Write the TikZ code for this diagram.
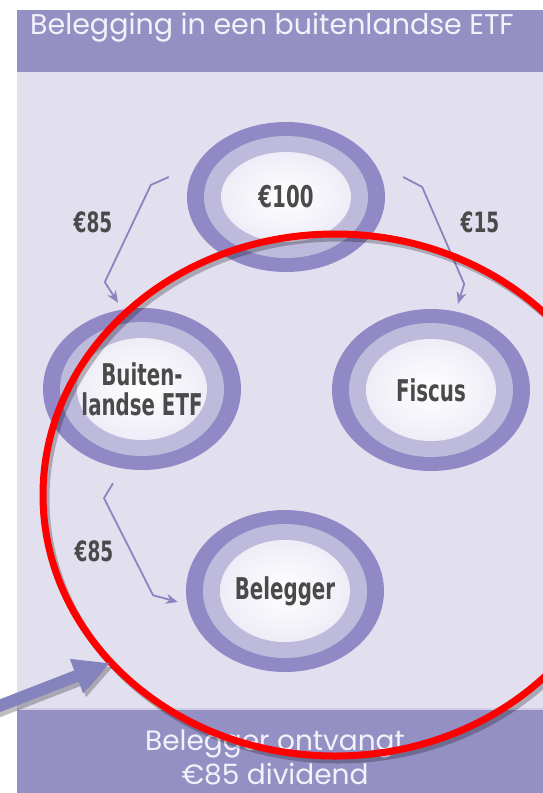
\documentclass[tikz,border=0pt]{standalone}
\usepackage{fontspec}
\setmainfont{Poppins}
\newfontfamily\ringfont{DejaVu Sans}[FakeStretch=0.66]
\usetikzlibrary{arrows.meta,shapes.geometric}

\definecolor{bannercol}{HTML}{9590C4}
\definecolor{paneltint}{HTML}{E2E0EF}
\definecolor{ringdark}{HTML}{9189C5}
\definecolor{ringlight}{HTML}{BEBADB}
\definecolor{ringpale}{HTML}{EEEDF7}
\definecolor{flowcol}{HTML}{8A85BF}
\definecolor{labelgray}{HTML}{4A4A4A}
\definecolor{pointercol}{HTML}{8583BE}
\definecolor{bannerwhite}{HTML}{F3F1FA}

\begin{document}
\begin{tikzpicture}[x=1pt, y=-1pt,
    % Styles
    ring/.style={ellipse, inner sep=0pt, minimum width=198pt, minimum height=#1, fill=ringdark,
      text=labelgray, align=center, font=\ringfont\bfseries\fontsize{30}{30}\selectfont,
      path picture={
        \fill[ringlight] (path picture bounding box.center) ellipse [x radius=82pt, y radius=#1/2-14pt];
        \shade[inner color=white, outer color=ringpale] (path picture bounding box.center) ellipse [x radius=65pt, y radius=#1/2-30pt];
      }},
    ring/.default=162pt,
    flow/.style={-{Stealth[length=12pt, width=10pt]}, line width=1.8pt, flowcol, line join=round},
    amount/.style={font=\ringfont\bfseries\fontsize{28}{30}\selectfont, text=labelgray},
    bannertext/.style={text=bannerwhite, align=center, anchor=base},
    pointer/.style={-{Triangle[length=36pt, width=34pt]}, line width=12pt, pointercol},
    circled/.style={draw=red, line width=7pt},
    castshadow/.style={black, opacity=0.25},
]

\useasboundingbox (0,0) rectangle (543,793);
\fill[white] (0,0) rectangle (543,793);

% Panel and banners
\fill[paneltint] (17,72) rectangle (543,710);
\fill[bannercol] (17,10) rectangle (543,72);
\fill[bannercol] (17,710) rectangle (543,793);
\draw[white!55!bannercol, line width=1.5pt] (17,709) -- (543,709);

% Title
\node[bannertext, font=\fontsize{28.5}{32}\selectfont] (title) at (272,34) {Belegging in een buitenlandse ETF};

% Rings
\node[ring=150pt] (dividend) at (286,197) {€100};
\node[ring] (etf) at (142,389) {Buiten-\\landse ETF};
\node[ring] (fiscus) at (431,390) {Fiscus};
\node[ring] (belegger) at (285,591) {Belegger};

% Money flows
\draw[flow] ([shift={(-18,-20)}]dividend.west) -- ++(-18,8) -- ++(-46,97) -- ([shift={(-24,-5)}]etf.north);
\node[amount] (netto) at (93,222) {€85};

\draw[flow] ([shift={(18,-20)}]dividend.east) -- ++(19,10) -- ++(42,97) -- ([shift={(27,-5)}]fiscus.north);
\node[amount] (bronbelasting) at (480,222) {€15};

\draw[flow] ([shift={(-29,13)}]etf.south) -- ++(-9,15) -- ++(49,97) -- ([shift={(-8,11)}]belegger.west);
\node[amount] (uitkering) at (94,551) {€85};

% Result
\node[bannertext, font=\fontsize{28}{34}\selectfont] (result) at (275,784) {Belegger ontvangt\\€85 dividend};

% Annotation
\coordinate (ringcentre) at (335,495);
\coordinate (pointertail) at (-6,708);
\coordinate (pointertip) at (110,663);
\draw[castshadow, line width=7pt] ([shift={(3,4)}]ringcentre) ellipse [x radius=292pt, y radius=261pt];
\draw[circled] (ringcentre) ellipse [x radius=292pt, y radius=261pt];
\draw[pointer, castshadow] ([shift={(3,4)}]pointertail) -- ([shift={(3,4)}]pointertip);
\draw[pointer] (pointertail) -- (pointertip);

\end{tikzpicture}
\end{document}
